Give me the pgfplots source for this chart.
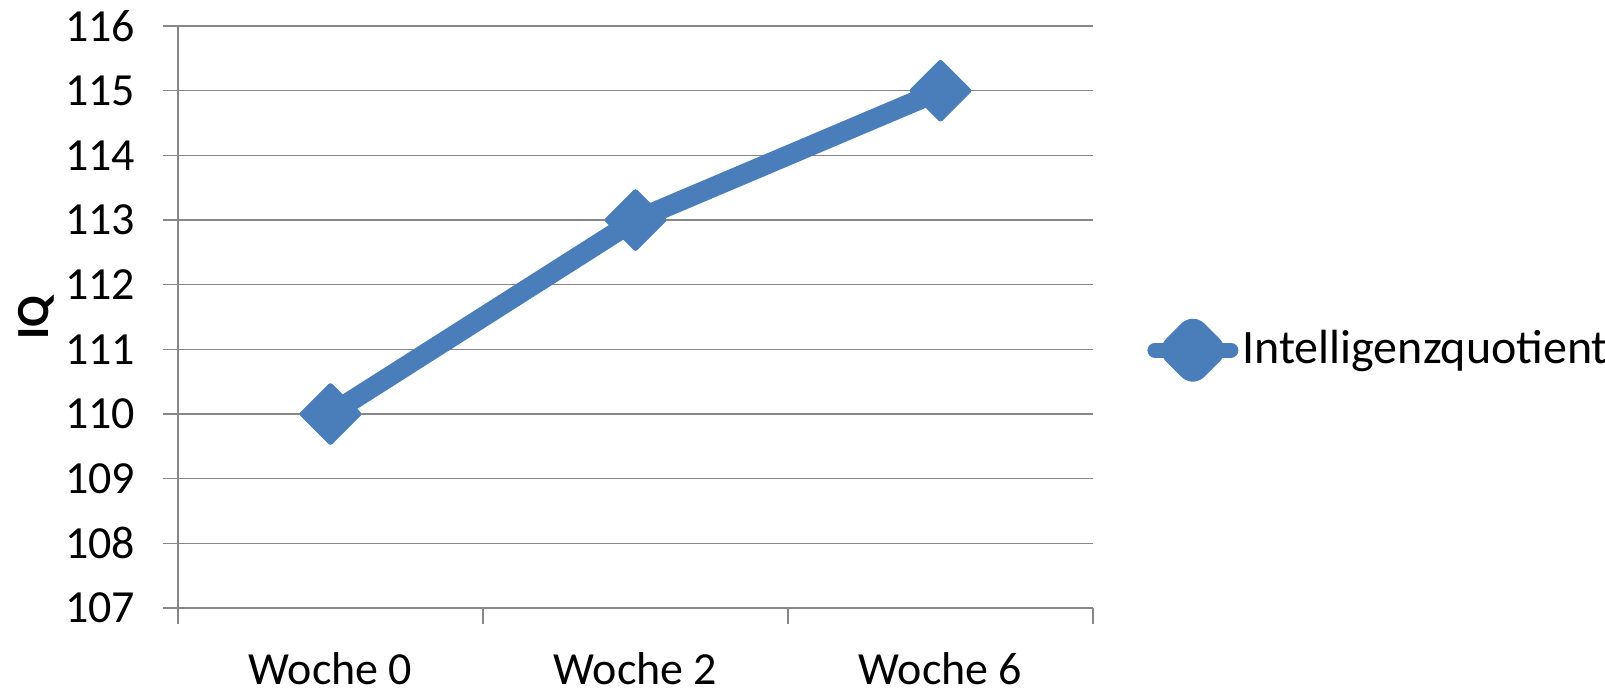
\documentclass[border=0pt]{standalone}
\usepackage{pgfplots}
\pgfplotsset{compat=1.18}
\usepackage{fontspec}
\setmainfont{Carlito}
\definecolor{serblue}{HTML}{4A7EBB}
\definecolor{gridgray}{HTML}{878787}
\begin{document}
\fontsize{23pt}{27pt}\selectfont
\begin{tikzpicture}
\useasboundingbox (-89pt,-42.5pt) rectangle (713.5pt,304pt);
\begin{axis}[
  at={(0,0)}, anchor=south west,
  scale only axis,
  width=457.5pt, height=291pt,
  xmin=-0.5, xmax=2.5,
  ymin=107, ymax=116,
  ytick={107,108,...,116},
  xtick={0,1,2},
  xticklabels={Woche 0,Woche 2,Woche 6},
  minor xtick={-0.5,0.5,1.5,2.5},
  major x tick style={draw=none},
  minor tick length=8pt,
  major tick length=7.5pt,
  tick align=outside,
  tick pos=lower,
  ymajorgrids,
  grid style={gridgray, line width=0.75pt},
  tick style={gridgray, line width=0.75pt},
  axis x line*=bottom,
  axis y line*=left,
  axis line style={gridgray, line width=0.75pt, -},
  /pgf/number format/assume math mode=true,
  ticklabel style={font=\fontsize{23pt}{27pt}\selectfont, text=black},
  yticklabel style={xshift=-6pt},
  xticklabel style={yshift=-7pt},
  ylabel={\textbf{IQ}},
  ylabel style={at={(axis description cs:-0.1552,0.5)}, anchor=center, font=\fontsize{23pt}{27pt}\selectfont},
  legend style={at={(axis description cs:1.059,0.443)}, anchor=west, draw=none, fill=none, inner sep=0pt, font=\fontsize{24pt}{28pt}\selectfont, cells={anchor=west, inner sep=0.5pt}},
  legend image code/.code={
    \draw[serblue, line width=7.5pt, line cap=round] (0pt,0pt) -- (38pt,0pt);
    \fill[serblue, rounded corners=3pt] (19pt,12pt) -- (31pt,0pt) -- (19pt,-12pt) -- (7pt,0pt) -- cycle;
  },
]
\addplot[serblue, line width=10pt, line join=round,
  mark=square*, mark size=10pt,
  mark options={rotate=45, fill=serblue, draw=serblue, line width=2.5pt, line join=round}]
  coordinates {(0,110) (1,113) (2,115)};
\addlegendentry{Intelligenzquotient}
\end{axis}
\end{tikzpicture}
\end{document}
